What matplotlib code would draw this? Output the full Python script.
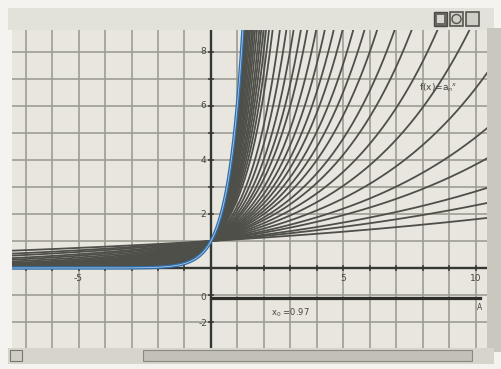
import numpy as np
import matplotlib
matplotlib.use("Agg")
import matplotlib.pyplot as plt
from matplotlib.patches import Rectangle, Ellipse

bases = [1.061, 1.088, 1.110, 1.144, 1.171, 1.209, 1.25, 1.29, 1.333, 1.369,
         1.415, 1.456, 1.50, 1.55, 1.60, 1.66, 1.73, 1.82, 1.90, 2.01, 2.15,
         2.31, 2.55, 2.7, 2.85, 3.0, 3.15, 3.3, 3.5, 3.7, 3.9, 4.1, 4.35,
         4.6, 4.85, 5.1, 5.4, 5.7]
blue_base = 6.1

x_ticks = [-5, 5, 10]
y_ticks = [2, 4, 6, 8]
slider_label = "x$_0$ =0.97"
func_label = "f(x)=a$_n$$^x$"

W, H = 502, 369
fig = plt.figure(figsize=(W / 100, H / 100), dpi=100)
fig.patch.set_facecolor("#f4f3ef")

# window chrome drawn in figure pixels
def px_rect(x0, y0, x1, y1, **kw):
    fig.patches.append(Rectangle((x0 / W, 1 - y1 / H), (x1 - x0) / W, (y1 - y0) / H,
                                 transform=fig.transFigure, **kw))

px_rect(8, 8, 494, 30, facecolor="#e3e2da", edgecolor="none")
px_rect(434, 12, 447, 26, facecolor="#6a6a63", edgecolor="#4a4a44", lw=1.0)
px_rect(437, 15, 444, 23, facecolor="#d8d6ce", edgecolor="none")
px_rect(450, 12, 463, 26, facecolor="#cfcdc4", edgecolor="#55554f", lw=1.2)
px_rect(466, 12, 479, 26, facecolor="#cfcdc4", edgecolor="#55554f", lw=1.2)
fig.patches.append(Ellipse((456.5 / W, 1 - 19 / H), 9 / W, 9 / H, transform=fig.transFigure,
                           facecolor="none", edgecolor="#55554f", lw=1.0))
px_rect(487, 28, 502, 352, facecolor="#c9c7be", edgecolor="none")
px_rect(8, 348, 494, 364, facecolor="#d6d4cb", edgecolor="none")
px_rect(143, 350, 472, 361, facecolor="#c2c0b7", edgecolor="#8a8a82", lw=0.8)
px_rect(10, 350, 22, 361, facecolor="#d0cec5", edgecolor="#77776f", lw=0.8)

# plot area: origin at pixel (211, 268), 26.5 px per x unit, 27 px per y unit
L, R, T, B = 12, 487, 30, 348
ax = fig.add_axes([L / W, 1 - B / H, (R - L) / W, (B - T) / H])
ax.set_facecolor("#e8e6de")
ax.set_xlim((L - 211) / 26.5, (R - 211) / 26.5)
ax.set_ylim((268 - B) / 27, (268 - T) / 27)
for s in ax.spines.values():
    s.set_visible(False)
ax.set_xticks([])
ax.set_yticks([])

for gx in range(-7, 11):
    ax.axvline(gx, color="#9e9d94", lw=1.2, zorder=1)
for gy in range(-2, 9):
    ax.axhline(gy, color="#9e9d94", lw=1.2, zorder=1)

ax.axhline(0, color="#363632", lw=1.7, zorder=2)
ax.axvline(0, color="#363632", lw=1.7, zorder=2)
for gx in range(-7, 11):
    ax.plot([gx, gx], [-0.06, 0.06], color="#363632", lw=1.2, zorder=2)
for gy in range(-2, 9):
    ax.plot([-0.06, 0.06], [gy, gy], color="#363632", lw=1.2, zorder=2)

xs = np.linspace(-7.8, 10.8, 800)
for b in bases:
    ax.plot(xs, b ** xs, color="#4f4f4a", lw=1.3, zorder=3)
ax.plot(xs, blue_base ** xs, color="#2f6fae", lw=2.4, zorder=4)
ax.plot(xs, blue_base ** xs, color="#a9c9e6", lw=0.6, zorder=5)

for t in x_ticks:
    ax.text(t, -0.38, str(t), ha="center", va="center", fontsize=6.5, color="#45453f")
for t in y_ticks:
    ax.text(-0.3, t, str(t), ha="center", va="center", fontsize=6.5, color="#45453f")
ax.text(-0.3, -1.1, "0", ha="center", va="center", fontsize=6.5, color="#45453f")
ax.text(-0.3, -2.05, "-2", ha="center", va="center", fontsize=6.5, color="#45453f")

# slider
ax.plot([0, 10.15], [-1.1, -1.1], color="#2e2e2a", lw=2.3, zorder=4)
ax.text(10.15, -1.45, "A", ha="center", va="center", fontsize=5.5, color="#45453f")
ax.text(3.0, -1.67, slider_label, ha="center", va="center", fontsize=6, color="#45453f")

ax.text(8.6, 6.67, func_label, ha="center", va="center", fontsize=6.5, color="#45453f",
        zorder=6)

fig.savefig("out.png", dpi=100)
